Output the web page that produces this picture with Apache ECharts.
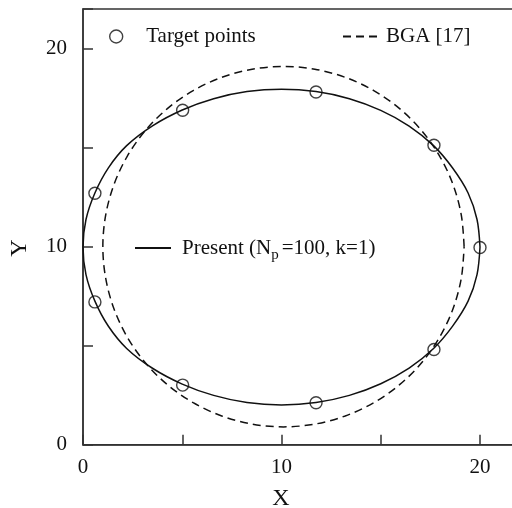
<!DOCTYPE html>
<html><head><meta charset="utf-8">
<script src="https://cdn.jsdelivr.net/npm/echarts@6/dist/echarts.min.js"></script>
<style>html,body{margin:0;padding:0;overflow:hidden;background:#fff}#c{width:540px;height:508px}</style>
</head><body><div id="c"></div>
<script>
// Tick labels
const xLabels = [0, 10, 20];
const yLabels = [0, 10, 20];
// Target points
const targetX = [20.0, 17.68, 11.74, 5.02, 0.6, 0.6, 5.02, 11.74, 17.68];
const targetY = [9.96, 15.12, 17.81, 16.89, 12.7, 7.21, 3.01, 2.12, 4.81];
// BGA [17] curve (closed, read around the loop)
const bgaX = [19.2, 19.06, 18.65, 17.98, 17.07, 15.95, 14.65, 13.21, 11.68, 10.1, 8.52, 6.99, 5.55, 4.25, 3.13, 2.22, 1.55, 1.14, 1.0,
              1.14, 1.55, 2.22, 3.13, 4.25, 5.55, 6.99, 8.52, 10.1, 11.68, 13.21, 14.65, 15.95, 17.07, 17.98, 18.65, 19.06, 19.2];
const bgaY = [10.0, 11.58, 13.11, 14.55, 15.85, 16.97, 17.88, 18.55, 18.96, 19.1, 18.96, 18.55, 17.88, 16.97, 15.85, 14.55, 13.11, 11.58, 10.0,
              8.42, 6.89, 5.45, 4.15, 3.03, 2.12, 1.45, 1.04, 0.9, 1.04, 1.45, 2.12, 3.03, 4.15, 5.45, 6.89, 8.42, 10.0];
// Present curve (closed, read around the loop)
const presentX = [20.0, 19.85, 19.4, 18.62, 17.66, 16.43, 15.0, 13.42, 11.74, 10.0, 8.26, 6.58, 5.0, 3.5, 2.2, 1.28, 0.6, 0.15, 0.0,
                  0.15, 0.6, 1.28, 2.2, 3.5, 5.0, 6.58, 8.26, 10.0, 11.74, 13.42, 15.0, 16.43, 17.66, 18.62, 19.4, 19.85, 20.0];
const presentY = [9.98, 11.37, 12.71, 13.97, 15.1, 16.09, 16.88, 17.47, 17.83, 17.95, 17.83, 17.47, 16.9, 16.1, 15.1, 13.98, 12.71, 11.37, 9.98,
                  8.59, 7.25, 5.98, 4.86, 3.86, 3.06, 2.49, 2.13, 2.01, 2.13, 2.49, 3.08, 3.87, 4.86, 5.99, 7.25, 8.59, 9.98];

const zip = (xs, ys) => xs.map((x, i) => [x, ys[i]]);
const F = '"Liberation Serif", "DejaVu Serif", serif';
const INK = '#111';
const chart = echarts.init(document.getElementById('c'), null, {renderer: 'canvas'});
const axisCommon = {
  type: 'value', min: 0, max: 22, interval: 5,
  splitLine: {show: false},
  axisLine: {lineStyle: {color: '#333', width: 1.5}},
  axisTick: {inside: true, length: 10, lineStyle: {color: '#333', width: 1.5}}
};
const hiddenSymbol = {color: 'rgba(0,0,0,0)', borderColor: 'rgba(0,0,0,0)', borderWidth: 0};
chart.setOption({
  animation: false,
  backgroundColor: '#fff',
  grid: {left: 83, top: 9, width: 436.7, height: 435.7, show: true, borderColor: '#333', borderWidth: 1.5},
  xAxis: Object.assign({}, axisCommon, {
    axisLabel: {margin: 12, color: INK, fontFamily: F, fontSize: 21, formatter: v => xLabels.includes(v) ? String(v) : ''}
  }),
  yAxis: Object.assign({}, axisCommon, {
    axisLabel: {margin: 16, color: INK, fontFamily: F, fontSize: 21, formatter: v => yLabels.includes(v) ? String(v) : ''}
  }),
  graphic: [
    {type: 'text', x: 281, y: 499, style: {text: 'X', fontFamily: F, fontSize: 24, fill: INK, align: 'center', verticalAlign: 'middle'}},
    {type: 'text', x: 20, y: 248, rotation: Math.PI / 2, style: {text: 'Y', fontFamily: F, fontSize: 24, fill: INK, align: 'center', verticalAlign: 'middle'}}
  ],
  legend: [
    {data: ['Target points'], left: 104, top: 21, itemWidth: 50, itemHeight: 13, selectedMode: false,
     itemStyle: {borderWidth: 1.4},
     textStyle: {fontFamily: F, fontSize: 21, color: INK}},
    {data: ['BGA [17]'], left: 337, top: 21, itemWidth: 38, itemHeight: 13, selectedMode: false,
     itemStyle: hiddenSymbol,
     textStyle: {fontFamily: F, fontSize: 21, color: INK}},
    {data: ['Present (Np=100, k=1)'], left: 129, top: 228, itemWidth: 36, itemHeight: 13, selectedMode: false,
     itemStyle: hiddenSymbol,
     formatter: () => 'Present (N{sub|p}=100, k=1)',
     textStyle: {fontFamily: F, fontSize: 21, color: INK, lineHeight: 30, padding: [0, 0, 0, 6],
       rich: {sub: {fontFamily: F, fontSize: 15, color: INK, verticalAlign: 'bottom', lineHeight: 15, padding: [0, 3, 0, 0]}}}}
  ],
  series: [
    {name: 'BGA [17]', type: 'line', data: zip(bgaX, bgaY), symbol: 'none', smooth: 0.33,
     lineStyle: {color: INK, width: 1.5, type: [8, 5]}, itemStyle: {color: INK}},
    {name: 'Present (Np=100, k=1)', type: 'line', data: zip(presentX, presentY), symbol: 'none', smooth: 0.33,
     lineStyle: {color: INK, width: 1.5}, itemStyle: {color: INK}},
    {name: 'Target points', type: 'scatter', data: zip(targetX, targetY), symbol: 'circle', symbolSize: 12,
     itemStyle: {color: 'rgba(0,0,0,0)', borderColor: INK, borderWidth: 1.4}, z: 5}
  ]
});
</script></body></html>
